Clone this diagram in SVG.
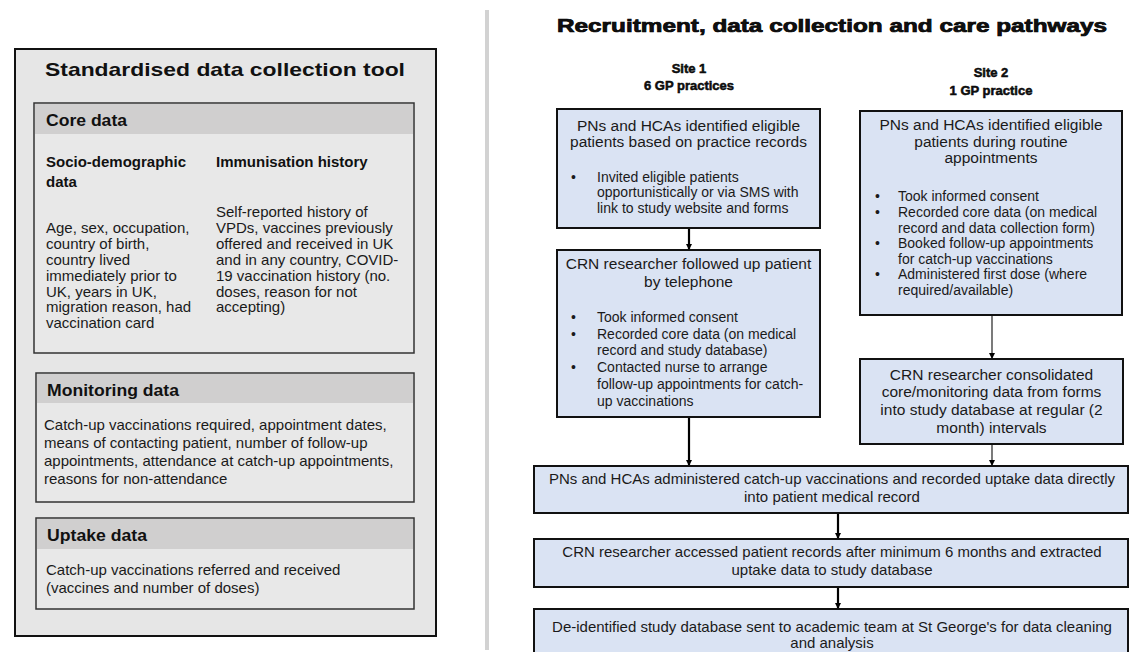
<svg xmlns="http://www.w3.org/2000/svg" width="1135" height="652" viewBox="0 0 1135 652">
<style>
text{font-family:"Liberation Sans",Arial,sans-serif;fill:#111}
.h1{font-size:19px;font-weight:bold}
.h2{font-size:16.5px;font-weight:bold}
.h3{font-size:15px;font-weight:bold}
.b{font-size:15px;fill:#1a1a1a}
.rt{font-size:18px;font-weight:bold;stroke:#000;stroke-width:0.7}
.site{font-size:13px;font-weight:bold;stroke:#000;stroke-width:0.5;text-anchor:middle}
.bh{font-size:15.5px;fill:#1a1a1a;text-anchor:middle}
.bw{font-size:15px;fill:#1a1a1a;text-anchor:middle}
.bl{font-size:14px;fill:#1a1a1a}
.outer{fill:#e6e6e6;stroke:#111;stroke-width:2}
.inner{fill:#e8e8e8;stroke:#333;stroke-width:1.5}
.band{fill:#d0cfcf}
.blue{fill:#dae3f3;stroke:#111;stroke-width:2}
.c{stroke:#000;stroke-width:2.2;fill:none}
.ct{stroke:#333;stroke-width:1.3;fill:none}
</style>
<defs>
<marker id="ah" viewBox="0 0 6 6" refX="6" refY="3" markerWidth="6" markerHeight="6" markerUnits="userSpaceOnUse" orient="auto"><path d="M0,0 L6,3 L0,6 z" fill="#000"/></marker>
</defs>
<rect x="0" y="0" width="1135" height="652" fill="#fff"/>
<rect x="485" y="10" width="4" height="640" fill="#d2d2d2"/>

<g id="data-tool">
<rect class="outer" x="15" y="49" width="421" height="587"/>
<text class="h1" x="45" y="76" textLength="360" lengthAdjust="spacingAndGlyphs">Standardised data collection tool</text>
</g>

<g id="core-data">
<rect class="inner" x="34" y="103" width="380" height="250"/>
<rect class="band" x="35" y="104" width="378" height="30"/>
<text class="h2" x="46" y="126" textLength="81" lengthAdjust="spacingAndGlyphs">Core data</text>
<text class="h3" x="46" y="167">Socio-demographic</text>
<text class="h3" x="46" y="187">data</text>
<text class="b" x="46" y="233">Age, sex, occupation,</text>
<text class="b" x="46" y="249">country of birth,</text>
<text class="b" x="46" y="265">country lived</text>
<text class="b" x="46" y="281">immediately prior to</text>
<text class="b" x="46" y="297">UK, years in UK,</text>
<text class="b" x="46" y="312">migration reason, had</text>
<text class="b" x="46" y="328">vaccination card</text>
<text class="h3" x="216" y="167">Immunisation history</text>
<text class="b" x="216" y="217">Self-reported history of</text>
<text class="b" x="216" y="233">VPDs, vaccines previously</text>
<text class="b" x="216" y="249">offered and received in UK</text>
<text class="b" x="216" y="265">and in any country, COVID-</text>
<text class="b" x="216" y="281">19 vaccination history (no.</text>
<text class="b" x="216" y="297">doses, reason for not</text>
<text class="b" x="216" y="312">accepting)</text>
</g>

<g id="monitoring-data">
<rect class="inner" x="36" y="373" width="378" height="129"/>
<rect class="band" x="37" y="374" width="376" height="29"/>
<text class="h2" x="47" y="396" textLength="132" lengthAdjust="spacingAndGlyphs">Monitoring data</text>
<text class="b" x="44" y="430">Catch-up vaccinations required, appointment dates,</text>
<text class="b" x="44" y="448">means of contacting patient, number of follow-up</text>
<text class="b" x="44" y="466">appointments, attendance at catch-up appointments,</text>
<text class="b" x="44" y="484">reasons for non-attendance</text>
</g>

<g id="uptake-data">
<rect class="inner" x="36" y="518" width="378" height="91"/>
<rect class="band" x="37" y="519" width="376" height="30"/>
<text class="h2" x="47" y="541" textLength="100" lengthAdjust="spacingAndGlyphs">Uptake data</text>
<text class="b" x="46" y="575">Catch-up vaccinations referred and received</text>
<text class="b" x="46" y="593">(vaccines and number of doses)</text>
</g>

<g id="pathways-title">
<text class="rt" x="557" y="32" textLength="550" lengthAdjust="spacingAndGlyphs">Recruitment, data collection and care pathways</text>
<text class="site" x="689" y="73">Site 1</text>
<text class="site" x="689" y="90">6 GP practices</text>
<text class="site" x="991" y="77">Site 2</text>
<text class="site" x="991" y="95">1 GP practice</text>
</g>

<g id="connectors">
<line class="c" x1="689" y1="228" x2="689" y2="250" marker-end="url(#ah)"/>
<line class="c" x1="689" y1="417" x2="689" y2="466" marker-end="url(#ah)"/>
<line class="ct" x1="992" y1="315" x2="992" y2="359" marker-end="url(#ah)"/>
<line class="ct" x1="992" y1="444" x2="992" y2="466" marker-end="url(#ah)"/>
<line class="c" x1="838" y1="513" x2="838" y2="539" marker-end="url(#ah)"/>
<line class="c" x1="838" y1="587" x2="838" y2="609" marker-end="url(#ah)"/>
</g>

<g id="s1-identify">
<rect class="blue" x="557" y="109" width="263" height="119"/>
<text class="bh" x="688.5" y="131">PNs and HCAs identified eligible</text>
<text class="bh" x="688.5" y="147">patients based on practice records</text>
<text class="bl" x="571" y="182">•</text>
<text class="bl" x="597" y="182">Invited eligible patients</text>
<text class="bl" x="597" y="197">opportunistically or via SMS with</text>
<text class="bl" x="597" y="213">link to study website and forms</text>
</g>

<g id="s1-followup">
<rect class="blue" x="557" y="250" width="263" height="167"/>
<text class="bh" x="688.5" y="269">CRN researcher followed up patient</text>
<text class="bh" x="688.5" y="287">by telephone</text>
<text class="bl" x="571" y="322">•</text>
<text class="bl" x="597" y="322">Took informed consent</text>
<text class="bl" x="571" y="339">•</text>
<text class="bl" x="597" y="339">Recorded core data (on medical</text>
<text class="bl" x="597" y="355">record and study database)</text>
<text class="bl" x="571" y="372">•</text>
<text class="bl" x="597" y="372">Contacted nurse to arrange</text>
<text class="bl" x="597" y="389">follow-up appointments for catch-</text>
<text class="bl" x="597" y="406">up vaccinations</text>
</g>

<g id="s2-identify">
<rect class="blue" x="860" y="111" width="262" height="204"/>
<text class="bh" x="991" y="130">PNs and HCAs identified eligible</text>
<text class="bh" x="991" y="147">patients during routine</text>
<text class="bh" x="991" y="163">appointments</text>
<text class="bl" x="875" y="201">•</text>
<text class="bl" x="898" y="201">Took informed consent</text>
<text class="bl" x="875" y="217">•</text>
<text class="bl" x="898" y="217">Recorded core data (on medical</text>
<text class="bl" x="898" y="233">record and data collection form)</text>
<text class="bl" x="875" y="248">•</text>
<text class="bl" x="898" y="248">Booked follow-up appointments</text>
<text class="bl" x="898" y="264">for catch-up vaccinations</text>
<text class="bl" x="875" y="279">•</text>
<text class="bl" x="898" y="279">Administered first dose (where</text>
<text class="bl" x="898" y="295">required/available)</text>
</g>

<g id="s2-consolidate">
<rect class="blue" x="860" y="359" width="263" height="85"/>
<text class="bh" x="991.5" y="380">CRN researcher consolidated</text>
<text class="bh" x="991.5" y="397">core/monitoring data from forms</text>
<text class="bh" x="991.5" y="415">into study database at regular (2</text>
<text class="bh" x="991.5" y="433">month) intervals</text>
</g>

<g id="administer">
<rect class="blue" x="534" y="466" width="594" height="47"/>
<text class="bw" x="832" y="484">PNs and HCAs administered catch-up vaccinations and recorded uptake data directly</text>
<text class="bw" x="832" y="502">into patient medical record</text>
</g>

<g id="extract">
<rect class="blue" x="534" y="539" width="594" height="48"/>
<text class="bw" x="832" y="557">CRN researcher accessed patient records after minimum 6 months and extracted</text>
<text class="bw" x="832" y="575">uptake data to study database</text>
</g>

<g id="deidentify">
<rect class="blue" x="534" y="609" width="594" height="52"/>
<text class="bw" x="832" y="632">De-identified study database sent to academic team at St George's for data cleaning</text>
<text class="bw" x="832" y="648">and analysis</text>
</g>
</svg>
